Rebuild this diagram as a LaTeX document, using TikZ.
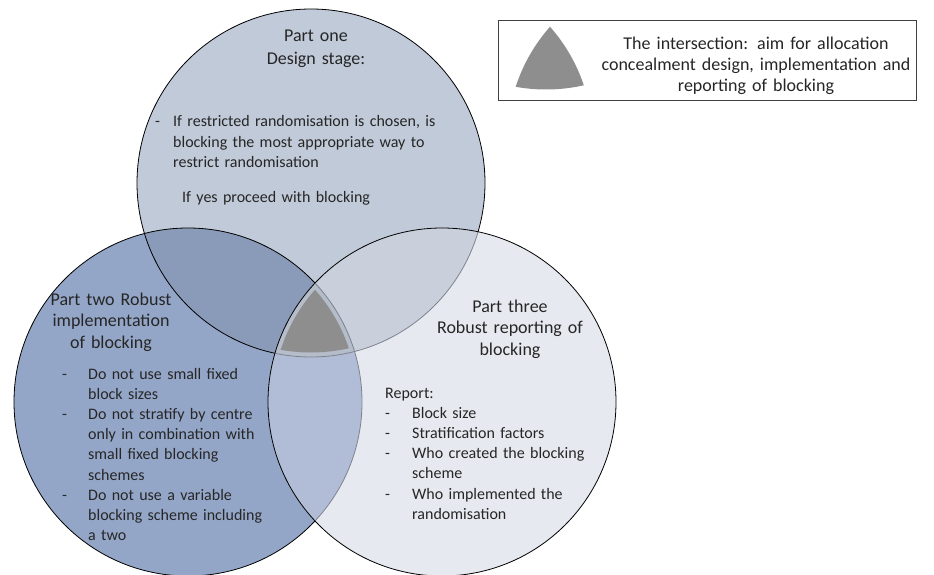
\documentclass[tikz,border=0pt]{standalone}
\usepackage{fontspec}
\setmainfont{Carlito}
\definecolor{topc}{HTML}{C1CAD8}
\definecolor{leftc}{HTML}{94A6C7}
\definecolor{rightc}{HTML}{E6E9EF}
\definecolor{tlc}{HTML}{8A9BBA}
\definecolor{trc}{HTML}{C9D0DC}
\definecolor{lrc}{HTML}{B1BCD6}
\definecolor{bandc}{HTML}{B5BCCA}
\definecolor{midc}{HTML}{8E8E8E}
\definecolor{innerline}{HTML}{7E848E}
\newcommand\dashA{\makebox[18pt][l]{-}}
\newcommand\dashB{\makebox[26pt][l]{-}}
\newcommand\indB{\hspace*{26pt}}
\newcommand\dashC{\makebox[27pt][l]{-}}
\newcommand\indC{\hspace*{27pt}}
\begin{document}
\begin{tikzpicture}[x=1pt,y=-1pt,
  txt/.style={font=\fontsize{16}{20.5}\selectfont, inner sep=0pt, text=black!85},
  ttl/.style={txt, align=center, font=\fontsize{18}{21.5}\selectfont},
  lst/.style={txt, align=left, anchor=base west, font=\fontsize{16}{20.2}\selectfont},
  rim/.style={line width=0.8pt, draw=black},
  rimin/.style={line width=0.8pt, draw=innerline}]
\useasboundingbox (0,0) rectangle (934,575);
\def\R{174pt}
\def\Rs{169.5pt}
\coordinate (T) at (311,183);
\coordinate (L) at (188,402);
\coordinate (Rc) at (442,402);
% base fills
\fill[topc] (T) circle[radius=\R];
\fill[leftc] (L) circle[radius=\R];
\fill[rightc] (Rc) circle[radius=\R];
\begin{scope}\clip (T) circle[radius=\R]; \fill[tlc] (L) circle[radius=\R];\end{scope}
\begin{scope}\clip (T) circle[radius=\R]; \fill[trc] (Rc) circle[radius=\R];\end{scope}
\begin{scope}\clip (L) circle[radius=\R]; \fill[lrc] (Rc) circle[radius=\R];\end{scope}
% outlines of top and left
\draw[rim] (T) circle[radius=\R];
\draw[rim] (L) circle[radius=\R];
% inside the right circle: refill and draw lighter outlines
\begin{scope}
  \clip (Rc) circle[radius=\R];
  \fill[rightc] (Rc) circle[radius=\R];
  \begin{scope}\clip (T) circle[radius=\R]; \fill[trc] (Rc) circle[radius=\R];\end{scope}
  \begin{scope}\clip (L) circle[radius=\R]; \fill[lrc] (Rc) circle[radius=\R];\end{scope}
  \begin{scope}\clip (T) circle[radius=\R]; \clip (L) circle[radius=\R]; \fill[bandc] (Rc) circle[radius=\R];\end{scope}
  \draw[rimin] (T) circle[radius=\R];
  \draw[rimin] (L) circle[radius=\R];
\end{scope}
% central intersection
\begin{scope}
  \clip (T) circle[radius=\Rs]; \clip (L) circle[radius=\Rs];
  \fill[midc] (Rc) circle[radius=\Rs];
\end{scope}
\draw[rim] (Rc) circle[radius=\R];
% legend
\node[draw=black!75, line width=0.8pt, minimum width=418pt, minimum height=80pt, inner sep=0pt, anchor=north west] (legend) at (498,20) {};
\begin{scope}[shift={(235,-263)}]
  \clip (311,183) circle[radius=\Rs]; \clip (188,402) circle[radius=\Rs];
  \fill[midc] (442,402) circle[radius=\Rs];
\end{scope}
\node[ttl, text width=340pt, anchor=base, font=\fontsize{18}{21}\selectfont] (legtext) at (756,50) {The intersection: aim for allocation\\concealment design, implementation and\\reporting of blocking};
% top circle text
\node[ttl, text width=200pt, anchor=base, font=\fontsize{18}{23}\selectfont] (toptitle) at (316,42) {Part one\\Design stage:};
\node[lst, text width=300pt] (toplist) at (155,127) {\dashA If restricted randomisation is chosen, is\\\hspace*{18pt}blocking the most appropriate way to\\\hspace*{18pt}restrict randomisation};
\node[lst, text width=250pt] (topyes) at (182,202) {If yes proceed with blocking};
% left circle text
\node[ttl, text width=160pt, anchor=base] (lefttitle) at (111,305) {Part two Robust\\implementation\\of blocking};
\node[lst, text width=260pt] (leftlist) at (62,379) {\dashB Do not use small fixed\\\indB block sizes\\\dashB Do not stratify by centre\\\indB only in combination with\\\indB small fixed blocking\\\indB schemes\\\dashB Do not use a variable\\\indB blocking scheme including\\\indB a two};
% right circle text
\node[ttl, text width=200pt, anchor=base] (righttitle) at (510,312) {Part three\\Robust reporting of\\blocking};
\node[lst, text width=240pt] (rightlist) at (385,398) {Report:\\\dashC Block size\\\dashC Stratification factors\\\dashC Who created the blocking\\\indC scheme\\\dashC Who implemented the\\\indC randomisation};
\end{tikzpicture}
\end{document}
